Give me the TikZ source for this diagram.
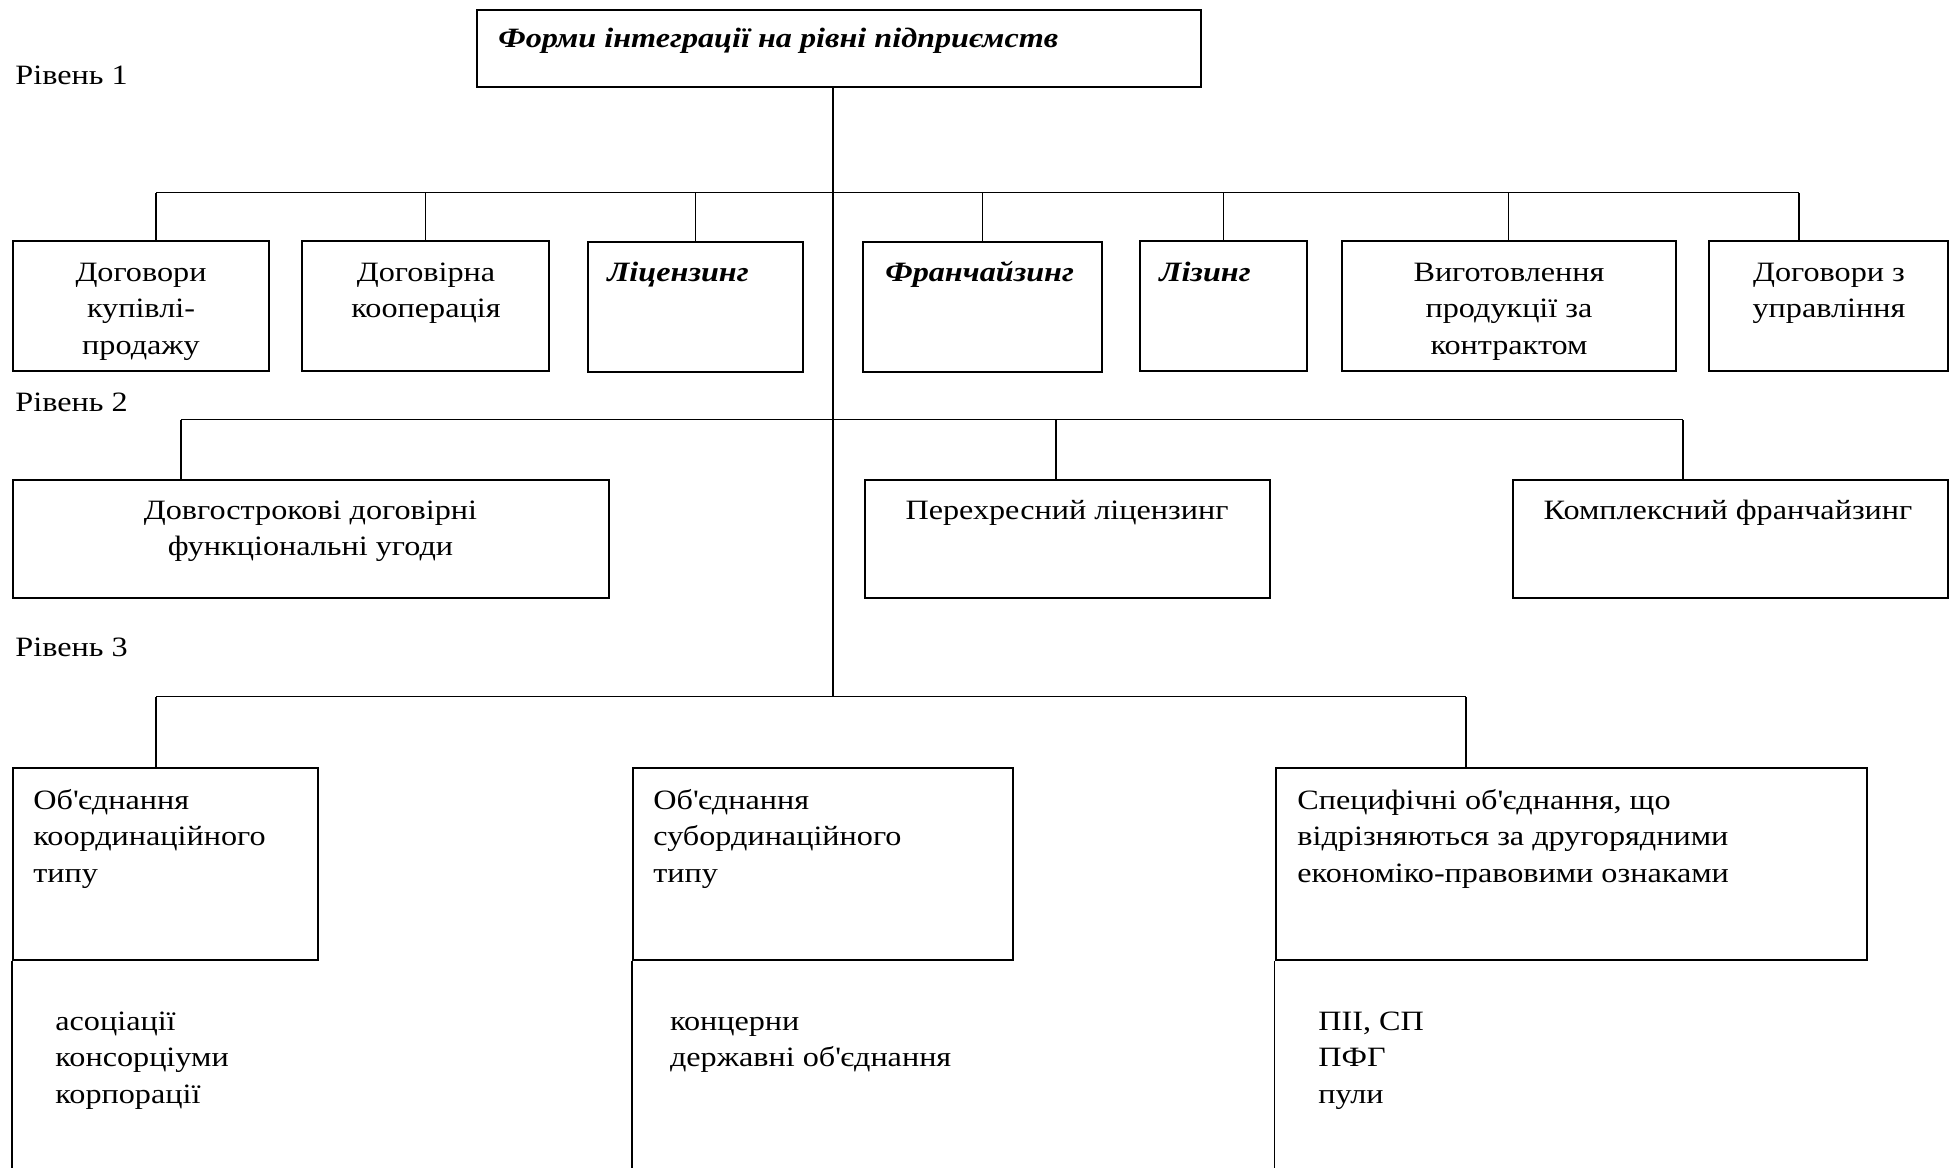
\documentclass[tikz,border=0pt]{standalone}
\usepackage{fontspec}
\setmainfont{Liberation Serif}[FakeStretch=1.15]
\usetikzlibrary{fit}

\tikzset{
  box/.style={draw, line width=1pt, inner sep=0pt},
  edge/.style={line width=0.9pt},
  link/.style={line width=0.6pt},
  bus/.style={line width=0.8pt},
  txt/.style={inner sep=0pt, font=\fontsize{14pt}{18.35pt}\selectfont},
  ctxt/.style={txt, align=center, anchor=base},
  ltxt/.style={txt, align=left, anchor=base west},
  emph/.style={ltxt, font=\fontsize{14pt}{18.35pt}\selectfont\bfseries\itshape},
}

\begin{document}
\begin{tikzpicture}[x=0.5pt, y=-0.5pt]
  \useasboundingbox (0,0) rectangle (1955,1168);

  % headline box
  \node[box, fit={(477,10) (1200.7,86.7)}] (top) {};
  \node[emph] (toptxt) at (498,47) {Форми інтеграції на рівні підприємств};

  % level captions
  \node[ltxt] (lev1) at (15,84) {Рівень 1};
  \node[ltxt] (lev2) at (15,411) {Рівень 2};
  \node[ltxt] (lev3) at (15,656) {Рівень 3};

  % level 1 boxes
  \node[box, fit={(13,241) (269,371)}]      (a1) {};
  \node[box, fit={(302,241) (549.3,371)}]   (a2) {};
  \node[box, fit={(588,242) (802.7,372)}]   (a3) {};
  \node[box, fit={(863.3,242) (1101.7,372)}] (a4) {};
  \node[box, fit={(1140,241) (1307.3,371)}] (a5) {};
  \node[box, fit={(1341.7,241) (1676,371)}] (a6) {};
  \node[box, fit={(1709.3,241) (1948.3,371)}] (a7) {};

  % multi-line labels are placed by the baseline of their last line
  \node[ctxt] (a1t) at (141,354.4) {Договори\\купівлі-\\продажу};
  \node[ctxt] (a2t) at (426,317.7) {Договірна\\кооперація};
  \node[emph] (a3t) at (607,281) {Ліцензинг};
  \node[emph] (a4t) at (885,281) {Франчайзинг};
  \node[emph] (a5t) at (1159,281) {Лізинг};
  \node[ctxt] (a6t) at (1509,354.4) {Виготовлення\\продукції за\\контрактом};
  \node[ctxt] (a7t) at (1829,317.7) {Договори з\\управління};

  % level 2 boxes
  \node[box, fit={(12.5,480) (608.5,598.3)}]  (b1) {};
  \node[box, fit={(865,480) (1270,598.3)}]    (b2) {};
  \node[box, fit={(1513.3,480) (1948,598.3)}] (b3) {};

  \node[ctxt] (b1t) at (310.5,555.7) {Довгострокові договірні\\функціональні угоди};
  \node[ctxt] (b2t) at (1067,519) {Перехресний ліцензинг};
  \node[ctxt] (b3t) at (1728,519) {Комплексний франчайзинг};

  % level 3 boxes
  \node[box, fit={(12.7,768.3) (318.3,960)}]   (c1) {};
  \node[box, fit={(633,768.3) (1012.5,960)}]   (c2) {};
  \node[box, fit={(1275.5,768.3) (1866.6,960)}] (c3) {};

  \node[ltxt] (c1t) at (33,882.4) {Об\textquotesingle єднання\\координаційного\\типу};
  \node[ltxt] (c2t) at (653,882.4) {Об\textquotesingle єднання\\субординаційного\\типу};
  \node[ltxt] (c3t) at (1297,882.4) {Специфічні об\textquotesingle єднання, що\\відрізняються за другорядними\\економіко-правовими ознаками};

  \node[ltxt] (d1t) at (55,1103.4) {асоціації\\консорціуми\\корпорації};
  \node[ltxt] (d2t) at (669.6,1066.7) {концерни\\державні об\textquotesingle єднання};
  \node[ltxt] (d3t) at (1318,1103.4) {ПІІ, СП\\ПФГ\\пули};

  % bus points
  \coordinate (trunk) at (833,696.5);
  \coordinate (p1l) at (156,192.5);
  \coordinate (p1r) at (1799,192.5);
  \coordinate (p2l) at (181,419.5);
  \coordinate (p2m) at (1056,419.5);
  \coordinate (p2r) at (1683,419.5);
  \coordinate (p3l) at (156,696.5);
  \coordinate (p3r) at (1466,696.5);
  \coordinate (bottom) at (0,1168);

  % trunk and buses
  \draw[link] (top.south -| trunk) -- (trunk);
  \draw[bus] (p1l) -- (p1r);
  \draw[bus] (p2l) -- (p2r);
  \draw[bus] (p3l) -- (p3r);

  % level 1 drops
  \draw[link] (a1.north -| p1l) -- (p1l);
  \draw[link] (a2.north) -- (a2.north |- p1l);
  \draw[link] (a3.north) -- (a3.north |- p1l);
  \draw[link] (a4.north) -- (a4.north |- p1l);
  \draw[link] (a5.north) -- (a5.north |- p1l);
  \draw[link] (a6.north) -- (a6.north |- p1l);
  \draw[link] (a7.north -| p1r) -- (p1r);

  % level 2 drops
  \draw[link] (b1.north -| p2l) -- (p2l);
  \draw[link] (b2.north -| p2m) -- (p2m);
  \draw[link] (b3.north -| p2r) -- (p2r);

  % level 3 drops
  \draw[link] (c1.north -| p3l) -- (p3l);
  \draw[link] (c3.north -| p3r) -- (p3r);

  % left edges running on below the level 3 boxes
  \draw[edge] (c1.south west) -- (c1.south west |- bottom);
  \draw[edge] (c2.south west) -- (c2.south west |- bottom);
  \draw[edge] (c3.south west) -- (c3.south west |- bottom);
\end{tikzpicture}
\end{document}
